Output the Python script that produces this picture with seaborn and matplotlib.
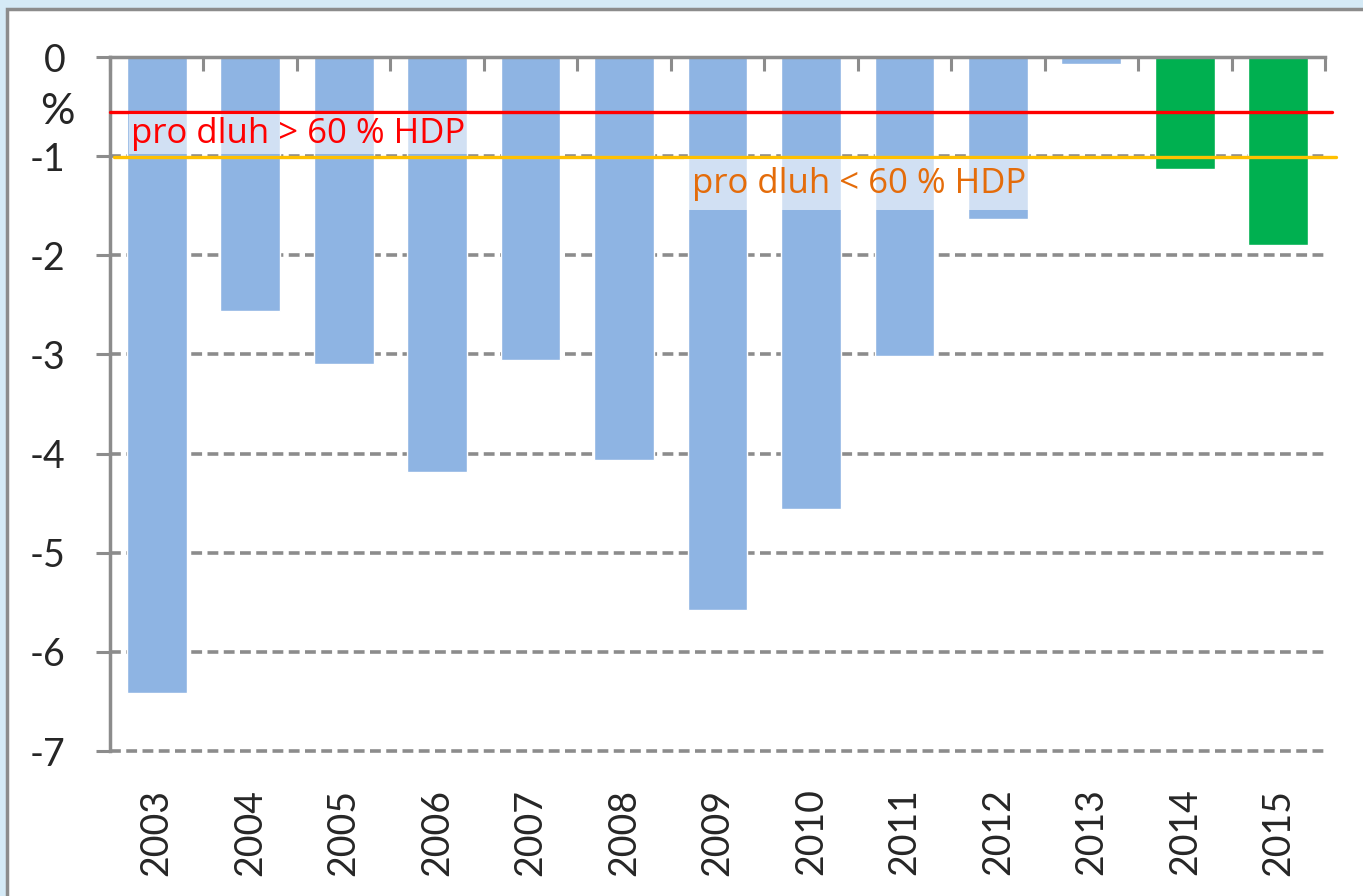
import numpy as np
import pandas as pd
import matplotlib
matplotlib.use('Agg')
import matplotlib.pyplot as plt
import seaborn as sns
from matplotlib.patches import Rectangle

# data
years = ['2003', '2004', '2005', '2006', '2007', '2008', '2009',
         '2010', '2011', '2012', '2013', '2014', '2015']
balance = [-6.42, -2.56, -3.10, -4.19, -3.06, -4.06, -5.58,
           -4.56, -3.02, -1.63, -0.07, -1.13, -1.90]
bar_colors = ['#8EB4E3'] * 11 + ['#00B050'] * 2

limit_high_debt = -0.55   # pro dluh > 60 % HDP
limit_low_debt = -1.01    # pro dluh < 60 % HDP
y_ticks = [0, -1, -2, -3, -4, -5, -6, -7]

sns.set_theme(style='white')
plt.rcParams['font.family'] = ['Lato', 'DejaVu Sans']
plt.rcParams['axes.unicode_minus'] = False

df = pd.DataFrame({'year': years, 'balance': balance})

fig = plt.figure(figsize=(13.63, 8.96), dpi=100)
fig.patch.set_facecolor('#D5EAF6')

# white chart area with gray frame (left + top)
W, H = 1363, 896
frame = Rectangle((7 / W, -0.01), 1.02, 1 - 9 / H + 0.01,
                  transform=fig.transFigure, facecolor='white',
                  edgecolor='#8C8C8C', linewidth=2.5, zorder=-5)
fig.patches.append(frame)

ax = fig.add_axes([110 / W, 1 - 751 / H, (1325 - 110) / W, (751 - 57) / H])
ax.set_facecolor('none')
ax.set_zorder(1)

sns.barplot(data=df, x='year', y='balance', hue='year', palette=bar_colors,
            width=0.64, legend=False, saturation=1, ax=ax, zorder=2)

ax.set_ylim(-7, 0)
ax.set_xlim(-0.5, len(years) - 0.5)
ax.set_yticks(y_ticks)
ax.set_yticklabels([str(t) for t in y_ticks], fontsize=27)
for t in y_ticks[1:]:
    ax.axhline(t, color='#8C8C8C', lw=2.6, ls=(0, (3.0, 1.5)), zorder=1,
               clip_on=False)

# x axis: boundary ticks on top pointing down, labels at the bottom
ax.set_xticks(np.arange(-0.5, len(years), 1.0))
ax.set_xticklabels([])
ax.set_xticks(np.arange(len(years)), minor=True)
ax.set_xticklabels(years, minor=True, rotation=90, fontsize=27)
ax.tick_params(axis='x', which='major', top=True, bottom=False, direction='in',
               length=10, width=2.2, color='#8C8C8C', labelbottom=False)
ax.tick_params(axis='x', which='minor', bottom=True, top=False, length=0, pad=27)
ax.tick_params(axis='y', which='major', left=True, direction='out',
               length=10, width=2.2, color='#8C8C8C', pad=22)
ax.set_xlabel('')
ax.set_ylabel('')

for side in ['right', 'bottom']:
    ax.spines[side].set_visible(False)
for side in ['left', 'top']:
    ax.spines[side].set_color('#8C8C8C')
    ax.spines[side].set_linewidth(2.5)

# fiscal target lines
ax.axhline(limit_high_debt, xmin=0, xmax=1.006, color='#FF0000', lw=2.4,
           clip_on=False, zorder=4)
ax.axhline(limit_low_debt, xmin=0.003, xmax=1.009, color='#FFC000', lw=2.4,
           clip_on=False, zorder=4)

note_font = ['Open Sans', 'DejaVu Sans']
ax.text(-0.27, -0.775, 'pro dluh > 60 % HDP', color='#FF0000', fontsize=25,
        family=note_font, ha='left', va='center', zorder=5,
        bbox=dict(facecolor='white', alpha=0.6, edgecolor='none', pad=2))
ax.text(5.73, -1.285, 'pro dluh < 60 % HDP', color='#E46C0A', fontsize=25,
        family=note_font, ha='left', va='center', zorder=5,
        bbox=dict(facecolor='white', alpha=0.6, edgecolor='none', pad=6))

ax.text(-0.029, -0.55, '%', transform=ax.get_yaxis_transform(), fontsize=31,
        ha='right', va='center')

fig.savefig('out.png', dpi=100, facecolor=fig.get_facecolor())
